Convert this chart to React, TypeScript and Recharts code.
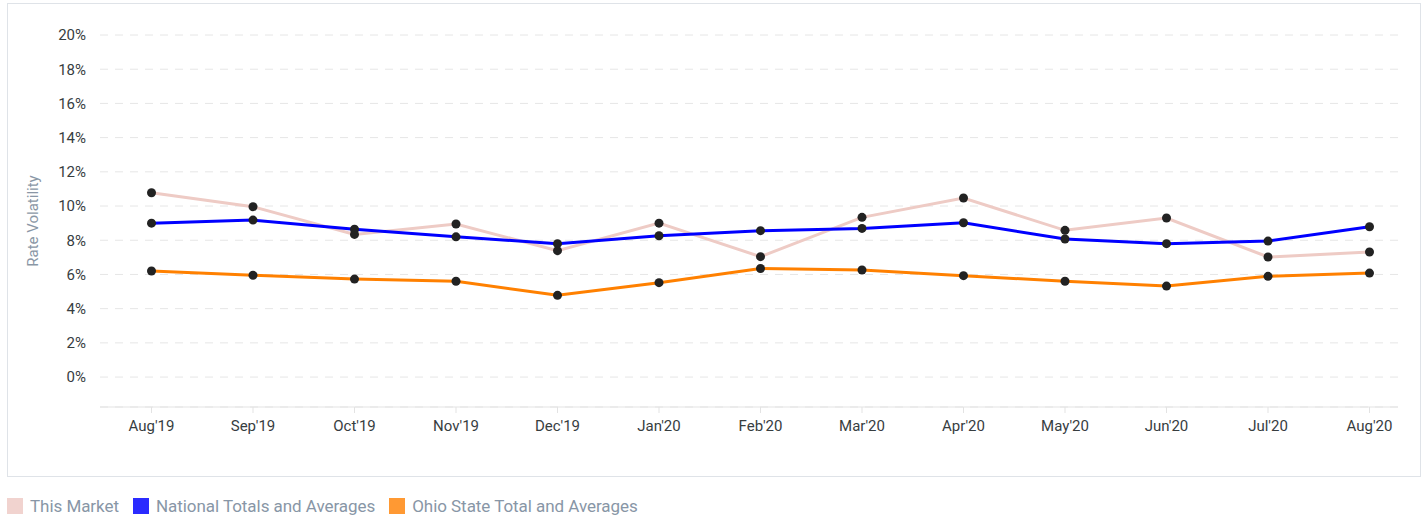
import { LineChart, Line, XAxis, YAxis, CartesianGrid } from "recharts";

const months = ["Aug'19", "Sep'19", "Oct'19", "Nov'19", "Dec'19", "Jan'20", "Feb'20", "Mar'20", "Apr'20", "May'20", "Jun'20", "Jul'20", "Aug'20"];
const thisMarket = [10.78, 9.96, 8.34, 8.95, 7.39, 9.0, 7.04, 9.34, 10.47, 8.58, 9.3, 7.02, 7.31];
const national = [9.0, 9.18, 8.64, 8.2, 7.8, 8.26, 8.56, 8.69, 9.02, 8.07, 7.8, 7.95, 8.79];
const ohio = [6.2, 5.95, 5.73, 5.6, 4.78, 5.52, 6.35, 6.26, 5.93, 5.6, 5.32, 5.89, 6.08];
const yTicks = [0, 2, 4, 6, 8, 10, 12, 14, 16, 18, 20];

const series = [
  { key: "market", name: "This Market", color: "#eecbc5", legend: "#f1d3cf" },
  { key: "national", name: "National Totals and Averages", color: "#0000ff", legend: "#2b2bff" },
  { key: "ohio", name: "Ohio State Total and Averages", color: "#ff8000", legend: "#ff9933" },
];

const data = months.map((m, i) => ({
  month: m,
  market: thisMarket[i],
  national: national[i],
  ohio: ohio[i],
}));

const font = "Roboto, sans-serif";

function AxisTitle(props: any) {
  const vb = props.viewBox;
  const cx = 33;
  const cy = vb.y + vb.height / 2;
  return (
    <text
      x={cx}
      y={cy}
      transform={`rotate(-90, ${cx}, ${cy})`}
      textAnchor="middle"
      dominantBaseline="central"
      fill="#8a97a6"
      fontSize={15}
      fontFamily={font}
    >
      Rate Volatility
    </text>
  );
}

export default function App() {
  return (
    <div style={{ position: "absolute", left: 0, top: 0, width: 1428, height: 518, background: "#fff", fontFamily: font }}>
      <div
        style={{
          position: "absolute",
          left: 7,
          top: 3,
          width: 1414,
          height: 474,
          boxSizing: "border-box",
          border: "1px solid #dfe3e8",
        }}
      />
      <div style={{ position: "absolute", left: 0, top: 0 }}>
        <LineChart width={1428} height={480} data={data} margin={{ top: 35, right: 30, left: 0, bottom: 33 }}>
          <CartesianGrid vertical={false} stroke="#e6e6e6" strokeDasharray="8 7" />
          <XAxis
            dataKey="month"
            padding={{ left: 51.5, right: 28.5 }}
            height={40}
            stroke="#e3e3e3"
            tickSize={6}
            tickMargin={7}
            tick={{ fill: "#373d3f", fontSize: 15, fontFamily: font }}
            interval={0}
          />
          <YAxis
            width={100}
            domain={[-1.75, 20]}
            ticks={yTicks}
            allowDataOverflow
            axisLine={false}
            tickLine={false}
            tickSize={6}
            tickMargin={8}
            tickFormatter={(v) => `${v}%`}
            tick={{ fill: "#373d3f", fontSize: 15, fontFamily: font }}
            label={{ content: AxisTitle }}
          />
          {series.map((s) => (
            <Line
              key={s.key}
              dataKey={s.key}
              type="linear"
              stroke={s.color}
              strokeWidth={3}
              dot={false}
              activeDot={false}
              isAnimationActive={false}
            />
          ))}
          {series.map((s) => (
            <Line
              key={s.key + "-dots"}
              dataKey={s.key}
              type="linear"
              stroke="none"
              dot={{ r: 4.5, fill: "#222222", stroke: "none" }}
              activeDot={false}
              isAnimationActive={false}
            />
          ))}
        </LineChart>
      </div>
      <div style={{ position: "absolute", left: 7, top: 498, display: "flex", alignItems: "center", gap: 14 }}>
        {series.map((s) => (
          <div key={s.key} style={{ display: "flex", alignItems: "center", gap: 7 }}>
            <span style={{ display: "inline-block", width: 16, height: 16, background: s.legend }} />
            <span style={{ fontSize: 17, color: "#8896a6", lineHeight: "16px", letterSpacing: -0.05 }}>{s.name}</span>
          </div>
        ))}
      </div>
    </div>
  );
}
